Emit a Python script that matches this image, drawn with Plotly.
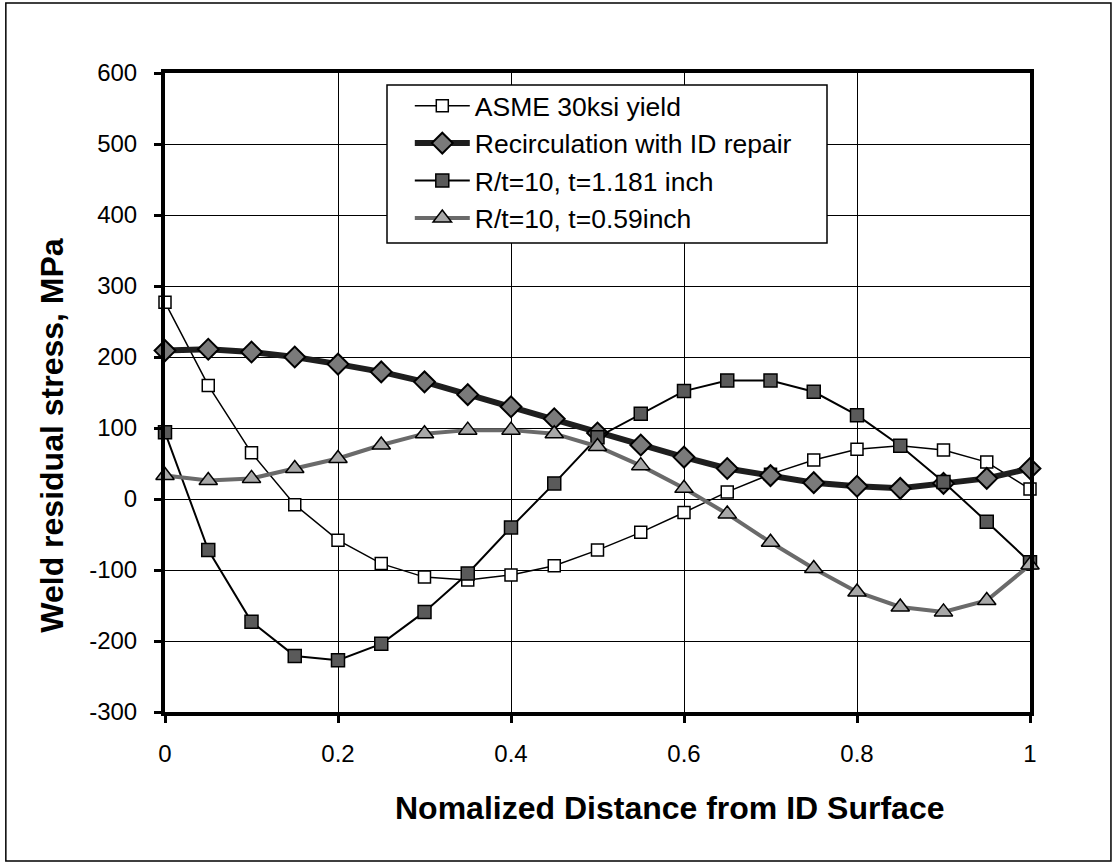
import plotly.graph_objects as go

x_dist = [0, 0.05, 0.1, 0.15, 0.2, 0.25, 0.3, 0.35, 0.4, 0.45, 0.5,
          0.55, 0.6, 0.65, 0.7, 0.75, 0.8, 0.85, 0.9, 0.95, 1.0]
asme = [277, 160, 65, -8, -58, -91, -110, -114, -107, -94, -72,
        -47, -19, 10, 35, 55, 70, 75, 69, 52, 14]
recirc = [209, 211, 207, 200, 190, 179, 165, 147, 130, 113, 93,
          76, 59, 43, 33, 23, 18, 15, 22, 29, 43]
rt_1181 = [94, -72, -173, -221, -227, -204, -159, -105, -40, 22, 87,
           120, 152, 167, 167, 151, 118, 75, 24, -32, -89]
rt_059 = [33, 26, 29, 43, 57, 76, 92, 97, 97, 92, 74,
          47, 15, -21, -61, -98, -131, -152, -159, -143, -93]

names = ["ASME 30ksi yield", "Recirculation with ID repair",
         "R/t=10, t=1.181 inch", "R/t=10, t=0.59inch"]
x_ticks = [0, 0.2, 0.4, 0.6, 0.8, 1]
x_tick_text = ["0", "0.2", "0.4", "0.6", "0.8", "1"]
y_ticks = [-300, -200, -100, 0, 100, 200, 300, 400, 500, 600]
y_tick_text = ["-300", "-200", "-100", "0", "100", "200", "300", "400", "500", "600"]

FONT = "Liberation Sans, Arial, sans-serif"

fig = go.Figure()
fig.add_trace(go.Scatter(
    x=x_dist, y=asme, name=names[0], mode="lines+markers",
    line=dict(color="black", width=1.5),
    marker=dict(symbol="square", size=12, color="white",
                line=dict(color="black", width=1.5)),
    cliponaxis=False))
fig.add_trace(go.Scatter(
    x=x_dist, y=recirc, name=names[1], mode="lines+markers",
    line=dict(color="#1e1e1e", width=6),
    marker=dict(symbol="diamond", size=16, color="#7a7a7a",
                line=dict(color="black", width=2)),
    cliponaxis=False))
fig.add_trace(go.Scatter(
    x=x_dist, y=rt_1181, name=names[2], mode="lines+markers",
    line=dict(color="black", width=2),
    marker=dict(symbol="square", size=13, color="#5a5a5a",
                line=dict(color="black", width=1.5)),
    cliponaxis=False))
fig.add_trace(go.Scatter(
    x=x_dist, y=rt_059, name=names[3], mode="lines+markers",
    line=dict(color="#6a6a6a", width=4),
    marker=dict(symbol="triangle-up", size=16, color="#a8a8a8",
                line=dict(color="black", width=1.5)),
    cliponaxis=False))

fig.update_layout(
    width=1117, height=866,
    margin=dict(l=165, r=87, t=73, b=154),
    paper_bgcolor="white", plot_bgcolor="white",
    font=dict(family=FONT, color="black", size=24),
    showlegend=True,
    legend=dict(
        x=0.283, y=0.986, xanchor="left", yanchor="top",
        bgcolor="rgba(0,0,0,0)", borderwidth=0,
        font=dict(family=FONT, size=26.5, color="black"),
        itemwidth=55, tracegroupgap=0),
    xaxis=dict(
        range=[0, 1], tickmode="array", tickvals=x_ticks, ticktext=x_tick_text,
        showgrid=True, gridcolor="black", gridwidth=1,
        showline=True, linecolor="black", linewidth=4, mirror=True,
        ticks="outside", ticklen=7, tickwidth=3, tickcolor="black",
        tickfont=dict(family=FONT, size=24), ticklabelstandoff=10,
        zeroline=False),
    yaxis=dict(
        range=[-300, 600], tickmode="array", tickvals=y_ticks, ticktext=y_tick_text,
        showgrid=True, gridcolor="black", gridwidth=1,
        showline=True, linecolor="black", linewidth=4, mirror=True,
        ticks="outside", ticklen=7, tickwidth=3, tickcolor="black",
        tickfont=dict(family=FONT, size=24), ticklabelstandoff=12,
        zeroline=False),
    annotations=[
        dict(text="<b>Nomalized Distance from ID Surface</b>",
             xref="paper", yref="paper", x=0.583, y=-0.150,
             xanchor="center", yanchor="middle", showarrow=False,
             font=dict(family=FONT, size=32, color="black")),
        dict(text="<b>Weld residual stress, MPa</b>",
             xref="paper", yref="paper", x=-0.131, y=0.432,
             xanchor="center", yanchor="middle", showarrow=False,
             textangle=-90,
             font=dict(family=FONT, size=32, color="black")),
    ],
    shapes=[
        dict(type="rect", xref="paper", yref="paper",
             x0=-0.184, x1=1.0936, y0=-0.2332, y1=1.1095,
             line=dict(color="black", width=1.5), layer="below"),
        dict(type="rect", xref="paper", yref="paper",
             x0=(387 - 165) / 865, x1=(827 - 165) / 865,
             y0=(712 - 243) / 639, y1=(712 - 85) / 639,
             fillcolor="white", line=dict(color="black", width=1.5),
             layer="above"),
    ],
)

fig.write_html("out.html")
